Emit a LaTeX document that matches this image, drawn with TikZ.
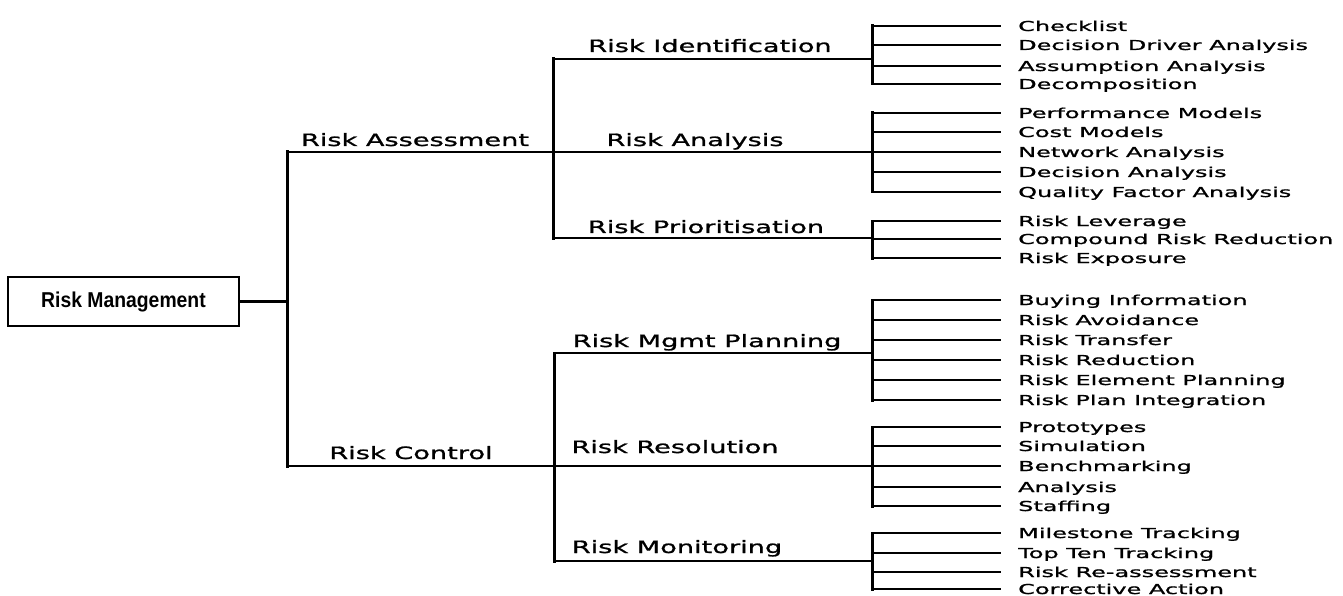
\documentclass[tikz,border=0pt]{standalone}
\usepackage{fontspec}
\setmainfont{DejaVu Sans}
\newfontfamily\rootfont[FakeStretch=0.9]{Liberation Sans}
\newfontfamily\lblfont[FakeStretch=1.6, FakeBold=1.2]{DejaVu Sans}
\newfontfamily\leaffont[FakeStretch=1.75, FakeBold=1.2]{DejaVu Sans}

\tikzset{
  rootbox/.style={draw, line width=2pt, minimum width=231pt, minimum height=49pt,
    inner sep=0pt, font=\rootfont\bfseries\fontsize{21.5}{24}\selectfont},
  branch/.style={anchor=base, inner sep=0pt, font=\lblfont\fontsize{17}{20}\selectfont},
  leaf/.style={anchor=west, inner sep=0pt, text height=10pt, text depth=0pt,
    font=\leaffont\fontsize{13.7}{16}\selectfont},
  hline/.style={line width=2.2pt, line cap=rect},
  vline/.style={line width=3pt, line cap=rect}
}

\begin{document}
\begin{tikzpicture}[x=1pt, y=-1pt]
\useasboundingbox (0,0) rectangle (1343,596);

% root
\node[rootbox] (root) at (123.5,301.5) {Risk Management};

% junction points of the tree
\coordinate (ra) at (287,152);
\coordinate (rc) at (287,466);
\coordinate (a2) at (553,152);
\coordinate (ai) at (553,59);
\coordinate (ap) at (553,238);
\coordinate (c2) at (554,466);
\coordinate (cm) at (554,353);
\coordinate (cn) at (554,561);
\coordinate (x3) at (872,0);

% level one and two labels
\node[branch] (assess) at (415,146) {Risk Assessment};
\node[branch] (control) at (411,459) {Risk Control};
\node[branch] (ident) at (710,52) {Risk Identification};
\node[branch] (anal) at (695,146) {Risk Analysis};
\node[branch] (prior) at (706,233) {Risk Prioritisation};
\node[branch] (plan) at (707,347) {Risk Mgmt Planning};
\node[branch] (resol) at (675,453) {Risk Resolution};
\node[branch] (monit) at (677,553) {Risk Monitoring};

% leaves
\foreach \i/\y/\t in {1/26/Checklist, 2/45/Decision Driver Analysis,
    3/66/Assumption Analysis, 4/84/Decomposition}
  \node[leaf] (li\i) at (1018,\y) {\t};
\foreach \i/\y/\t in {1/113/Performance Models, 2/132/Cost Models,
    3/152/Network Analysis, 4/172/Decision Analysis, 5/192/Quality Factor Analysis}
  \node[leaf] (la\i) at (1018,\y) {\t};
\foreach \i/\y/\t in {1/221/Risk Leverage, 2/239/Compound Risk Reduction,
    3/258/Risk Exposure}
  \node[leaf] (lp\i) at (1018,\y) {\t};
\foreach \i/\y/\t in {1/300/Buying Information, 2/320/Risk Avoidance,
    3/340/Risk Transfer, 4/360/Risk Reduction, 5/380/Risk Element Planning,
    6/400/Risk Plan Integration}
  \node[leaf] (lm\i) at (1018,\y) {\t};
\foreach \i/\y/\t in {1/427/Prototypes, 2/446/Simulation, 3/466/Benchmarking,
    4/487/Analysis, 5/506/Staffing}
  \node[leaf] (lr\i) at (1018,\y) {\t};
\foreach \i/\y/\t in {1/533/Milestone Tracking, 2/553/Top Ten Tracking,
    3/572/Risk Re-assessment, 4/589/Corrective Action}
  \node[leaf] (ln\i) at (1018,\y) {\t};

% connectors: root to first level
\draw[hline] (root.east) -- (root.east -| ra);
\draw[vline] (ra) -- (rc);
\draw[hline] (ra) -- (a2) -- (x3 |- a2);
\draw[hline] (rc) -- (c2) -- (x3 |- c2);

% second level
\draw[vline] (ai) -- (ap);
\draw[hline] (ai) -- (x3 |- ai);
\draw[hline] (ap) -- (x3 |- ap);
\draw[vline] (cm) -- (cn);
\draw[hline] (cm) -- (x3 |- cm);
\draw[hline] (cn) -- (x3 |- cn);

% third level: leaf groups
\foreach \g/\n in {li/4, la/5, lp/3, lm/6, lr/5, ln/4} {
  \draw[vline] (x3 |- \g1.west) -- (x3 |- \g\n.west);
  \foreach \i in {1,...,\n}
    \draw[hline] ([xshift=-18pt]\g\i.west) -- (x3 |- \g\i.west);
}
\end{tikzpicture}
\end{document}
